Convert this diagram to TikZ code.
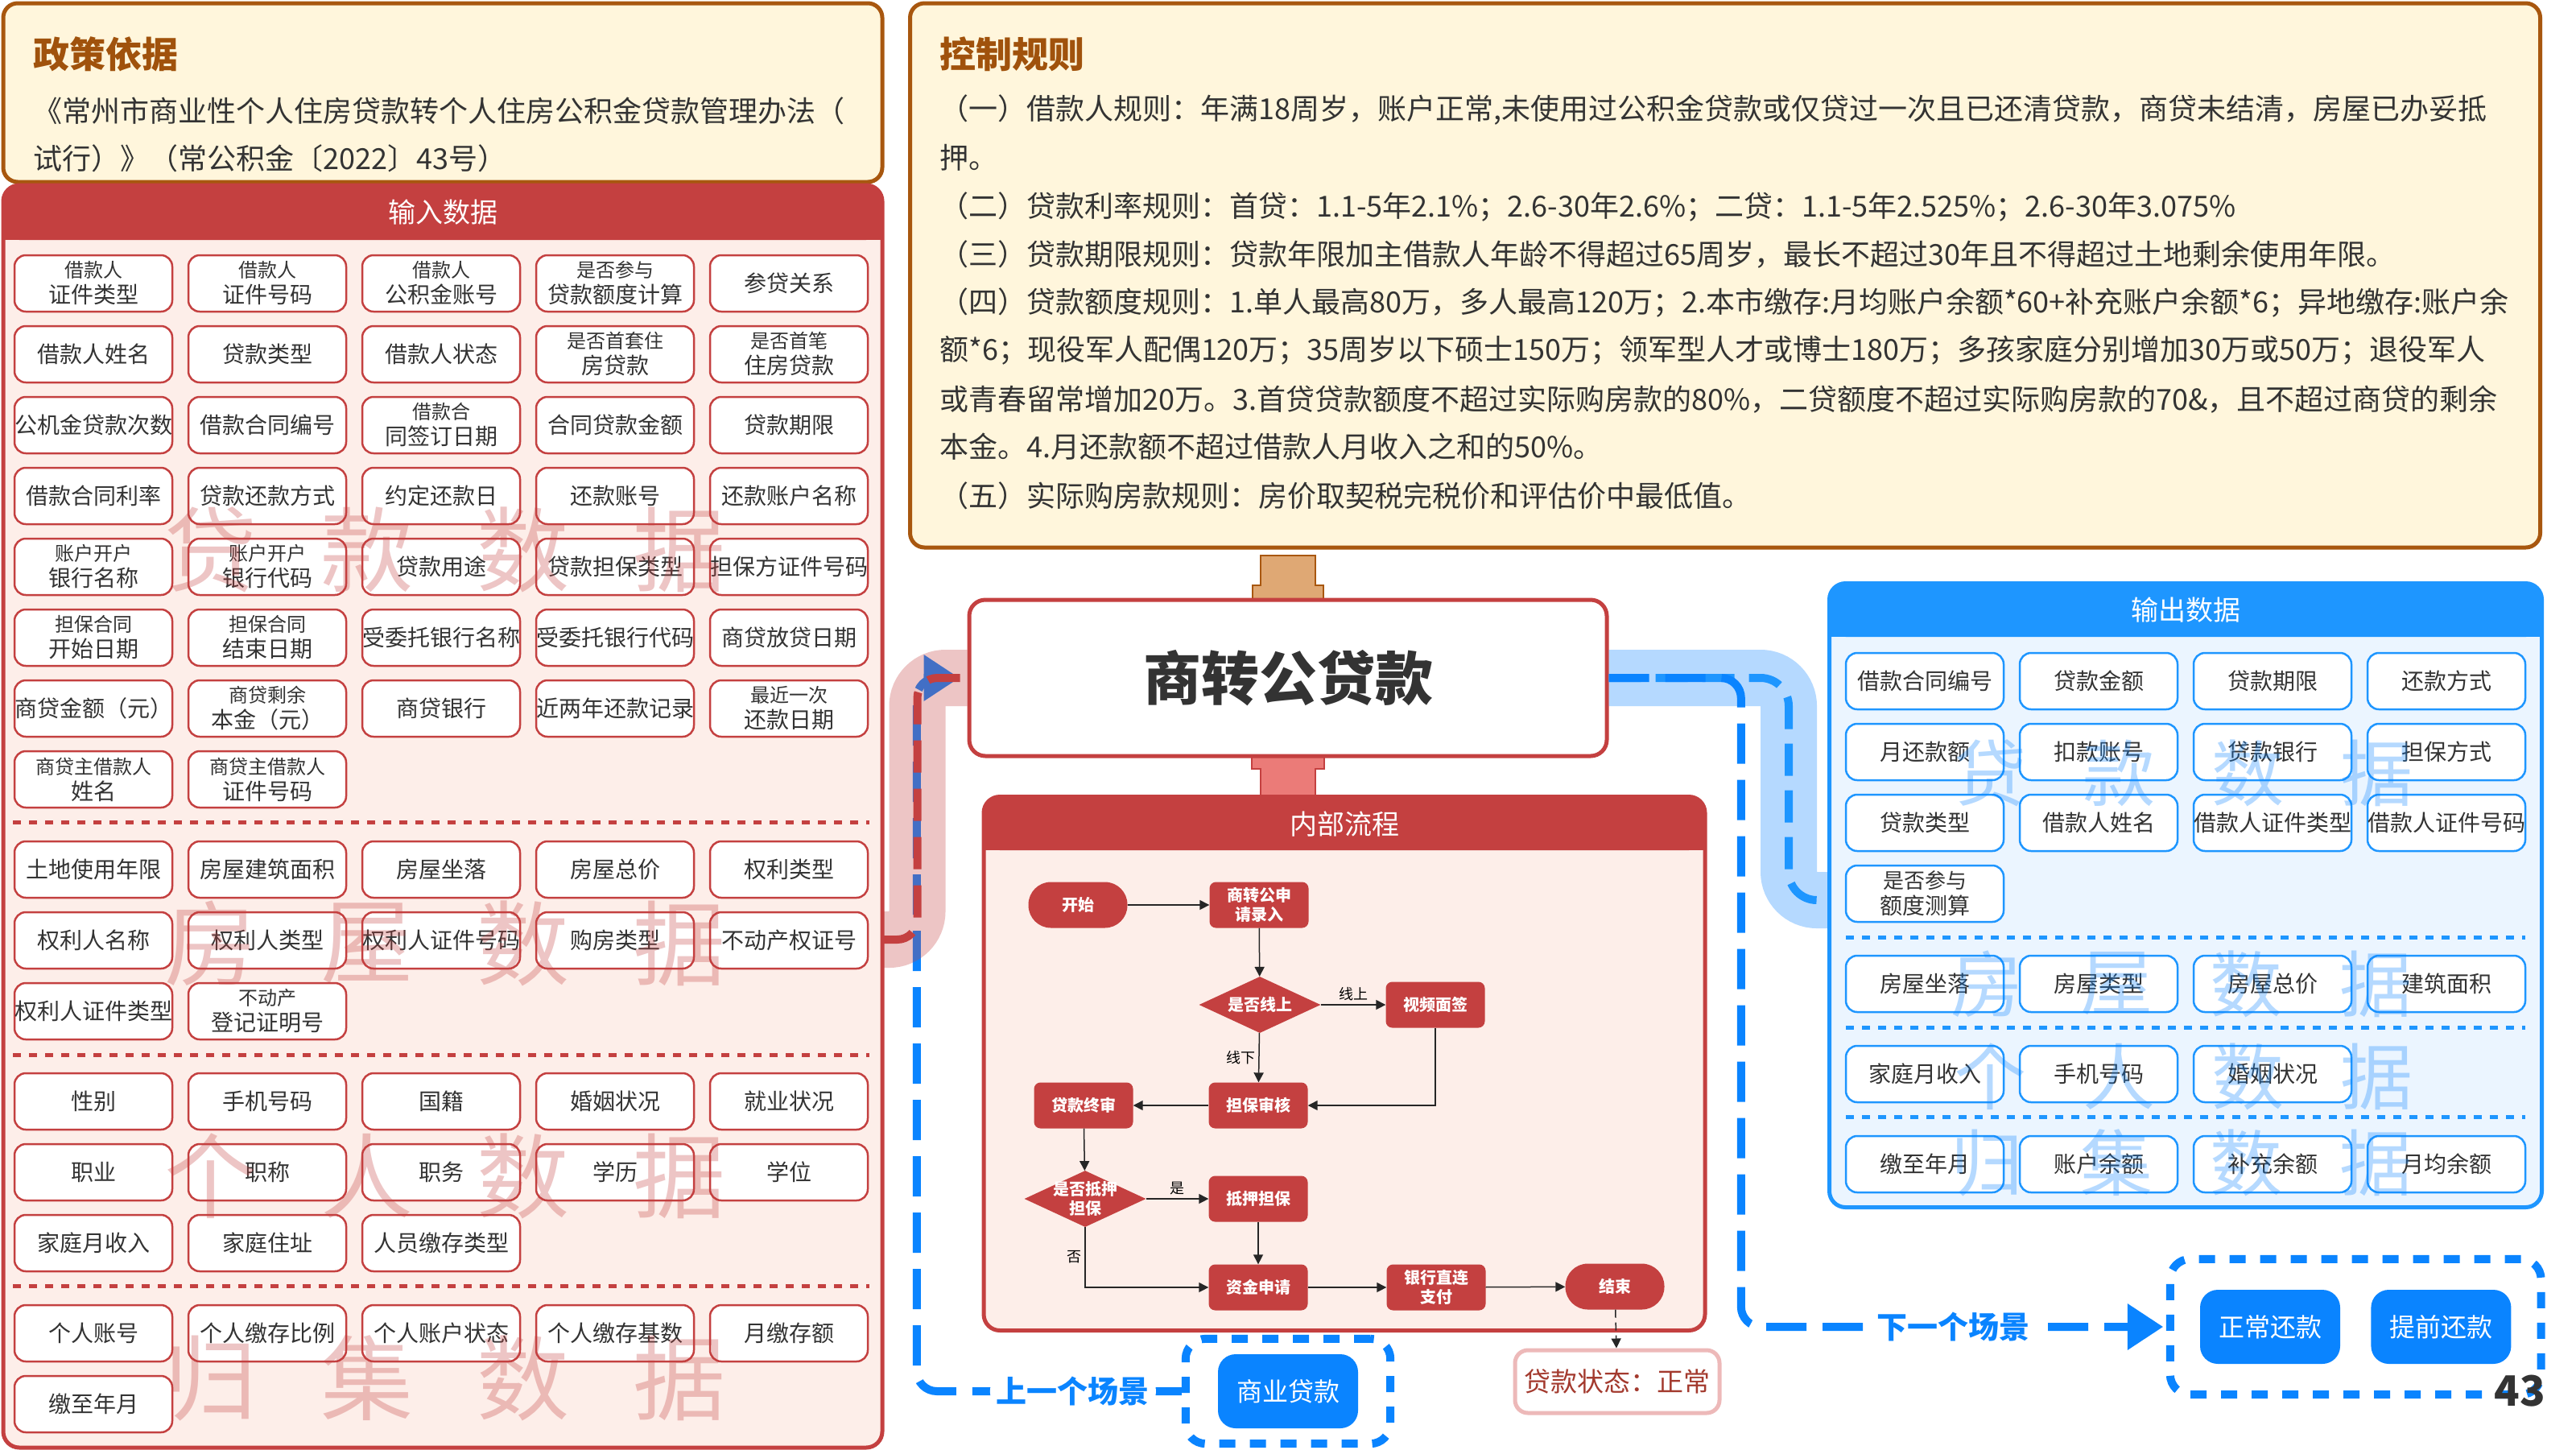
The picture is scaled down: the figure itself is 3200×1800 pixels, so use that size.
\documentclass[tikz,border=0pt]{standalone}
\usepackage{fontspec}
\setmainfont{Noto Sans CJK SC}
\usetikzlibrary{arrows.meta,shapes.geometric,fit,positioning}

\definecolor{brownline}{HTML}{A8570F}
\definecolor{creamfill}{HTML}{FFF6DC}
\definecolor{titlebrown}{HTML}{A0520C}
\definecolor{inred}{HTML}{C44040}
\definecolor{pinkfill}{HTML}{FDEEE9}
\definecolor{tanfill}{HTML}{DFA874}
\definecolor{linkred}{HTML}{EB7B78}
\definecolor{outblue}{HTML}{0A84FF}
\definecolor{headblue}{HTML}{1E96FF}
\definecolor{paleblue}{HTML}{EBF5FF}
\definecolor{textgray}{HTML}{333333}
\definecolor{statusred}{HTML}{A33A2E}
\definecolor{glowpink}{HTML}{EDB9B9}

\newcommand\twoln{\fontsize{24}{27}\selectfont}
\newcommand\placefields[6]{% style, name, first x, first y, columns, labels
  \foreach \txt [count=\i from 0] in {#6}{
    \pgfmathtruncatemacro\cx{#3+216*mod(\i,#5)}
    \pgfmathtruncatemacro\cy{#4+88*floor(\i/#5)}
    \node[#1] (#2\i) at (\cx,\cy) {\txt};
  }}

\begin{document}
\begin{tikzpicture}[x=1pt, y=-1pt,
  panel/.style={line width=5pt, rounded corners=20pt, inner sep=0pt},
  notetitle/.style={anchor=west, inner sep=0pt, text=titlebrown, font=\fontsize{45}{50}\selectfont\bfseries},
  notetext/.style={anchor=west, inner sep=0pt, text=textgray, font=\fontsize{36}{40}\selectfont},
  headtext/.style={inner sep=0pt, text=white, font=\fontsize{34}{38}\selectfont},
  infield/.style={draw=inred, fill=white, line width=2.5pt, rounded corners=14pt, minimum width=196pt, minimum height=70pt, inner sep=0pt, align=center, text=textgray, font=\fontsize{28}{32}\selectfont},
  outfield/.style={infield, draw=headblue},
  sepline/.style={line width=5pt, dash pattern=on 10pt off 10pt},
  wmred/.style={inner sep=0pt, text=inred, opacity=.3, font=\fontsize{115}{115}\selectfont},
  wmblue/.style={inner sep=0pt, text=outblue, opacity=.3, font=\fontsize{90}{90}\selectfont},
  flowbox/.style={fill=inred, text=white, rounded corners=8pt, minimum width=123pt, minimum height=57pt, inner sep=0pt, align=center, font=\fontsize{20}{24}\selectfont\bfseries},
  flowend/.style={flowbox, rounded corners=28pt},
  flowdec/.style={diamond, fill=inred, aspect=2.2, minimum width=151pt, minimum height=70pt, inner sep=0pt},
  flowtxt/.style={text=white, align=center, inner sep=0pt, font=\fontsize{20}{24}\selectfont\bfseries},
  flowlbl/.style={inner sep=4pt, font=\fontsize{18}{20}\selectfont},
  flowarr/.style={draw=black!85, line width=1.5pt, -{Triangle[length=12pt,width=12pt]}},
  scene/.style={fill=outblue, text=white, rounded corners=22pt, minimum width=174pt, minimum height=92pt, inner sep=0pt, font=\fontsize{32}{36}\selectfont},
  scenegrp/.style={draw=outblue, line width=10pt, dash pattern=on 20pt off 18pt, rounded corners=25pt},
  scenelbl/.style={fill=white, text=outblue, inner sep=8pt, font=\fontsize{38}{42}\selectfont\bfseries},
  band/.style={line width=70pt, opacity=.3, rounded corners=35pt},
  bluedash/.style={draw=outblue, line width=10pt, dash pattern=on 50pt off 20pt, rounded corners=25pt},
  lightdash/.style={draw=headblue, line width=10pt, dash pattern=on 40pt off 18pt, rounded corners=35pt},
  reddash/.style={draw=inred, line width=10pt, dash pattern=on 40pt off 20pt, rounded corners=25pt},
  bigtip/.style={-{Triangle[length=44pt,width=58pt,line width=0pt]}}
]
\useasboundingbox (0,0) rectangle (3200,1800);
\fill[white] (0,0) rectangle (3200,1800);

% policy basis
\node[panel, draw=brownline, fill=creamfill, rounded corners=18pt, minimum width=1092pt, minimum height=222pt] (policy) at (550,115) {};
\node[notetitle] (policytitle) at (41,67) {政策依据};
\node[notetext] (pol1) at (41,138) {《常州市商业性个人住房贷款转个人住房公积金贷款管理办法（};
\node[notetext] (pol2) at (41,197) {试行）》（常公积金〔2022〕43号）};

% control rules
\node[panel, draw=brownline, fill=creamfill, rounded corners=18pt, minimum width=2025pt, minimum height=676pt] (rules) at (2143,342) {};
\node[notetitle] (rulestitle) at (1167,67) {控制规则};
\node[notetext] (rule1) at (1167,137) {（一）借款人规则：年满18周岁，账户正常,未使用过公积金贷款或仅贷过一次且已还清贷款，商贷未结清，房屋已办妥抵};
\node[notetext] (rule2) at (1167,196) {押。};
\node[notetext] (rule3) at (1167,257) {（二）贷款利率规则：首贷：1.1-5年2.1\%；2.6-30年2.6\%；二贷：1.1-5年2.525\%；2.6-30年3.075\%};
\node[notetext] (rule4) at (1167,316) {（三）贷款期限规则：贷款年限加主借款人年龄不得超过65周岁，最长不超过30年且不得超过土地剩余使用年限。};
\node[notetext] (rule5) at (1167,376) {（四）贷款额度规则：1.单人最高80万，多人最高120万；2.本市缴存:月均账户余额*60+补充账户余额*6；异地缴存:账户余};
\node[notetext] (rule6) at (1167,435) {额*6；现役军人配偶120万；35周岁以下硕士150万；领军型人才或博士180万；多孩家庭分别增加30万或50万；退役军人};
\node[notetext] (rule7) at (1167,496) {或青春留常增加20万。3.首贷贷款额度不超过实际购房款的80\%，二贷额度不超过实际购房款的70\&，且不超过商贷的剩余};
\node[notetext] (rule8) at (1167,555) {本金。4.月还款额不超过借款人月收入之和的50\%。};
\node[notetext] (rule9) at (1167,616) {（五）实际购房款规则：房价取契税完税价和评估价中最低值。};

% input data
\node[panel, draw=inred, fill=pinkfill, minimum width=1092pt, minimum height=1568pt] (inpanel) at (550,1014) {};
\fill[inred, rounded corners=20pt] (4,230) rectangle (1096,298);
\fill[inred] (4,265) rectangle (1096,298);
\node[headtext] (inhead) at (550,264) {输入数据};
\placefields{infield}{loan}{116}{352}{5}{{\twoln 借款人\\证件类型}, {\twoln 借款人\\证件号码}, {\twoln 借款人\\公积金账号}, {\twoln 是否参与\\贷款额度计算}, 参贷关系,
  借款人姓名, 贷款类型, 借款人状态, {\twoln 是否首套住\\房贷款}, {\twoln 是否首笔\\住房贷款},
  公机金贷款次数, 借款合同编号, {\twoln 借款合\\同签订日期}, 合同贷款金额, 贷款期限,
  借款合同利率, 贷款还款方式, 约定还款日, 还款账号, 还款账户名称,
  {\twoln 账户开户\\银行名称}, {\twoln 账户开户\\银行代码}, 贷款用途, 贷款担保类型, 担保方证件号码,
  {\twoln 担保合同\\开始日期}, {\twoln 担保合同\\结束日期}, 受委托银行名称, 受委托银行代码, 商贷放贷日期,
  商贷金额（元）, {\twoln 商贷剩余\\本金（元）}, 商贷银行, 近两年还款记录, {\twoln 最近一次\\还款日期},
  {\twoln 商贷主借款人\\姓名}, {\twoln 商贷主借款人\\证件号码}}
\placefields{infield}{house}{116}{1080}{5}{土地使用年限, 房屋建筑面积, 房屋坐落, 房屋总价, 权利类型,
  权利人名称, 权利人类型, 权利人证件号码, 购房类型, 不动产权证号,
  权利人证件类型, {\twoln 不动产\\登记证明号}}
\placefields{infield}{person}{116}{1368}{5}{性别, 手机号码, 国籍, 婚姻状况, 就业状况,
  职业, 职称, 职务, 学历, 学位, 家庭月收入, 家庭住址, 人员缴存类型}
\placefields{infield}{fund}{116}{1656}{5}{个人账号, 个人缴存比例, 个人账户状态, 个人缴存基数, 月缴存额, 缴至年月}
\foreach \y in {1021,1310,1597}
  \draw[sepline, inred] (16,\y) -- (1080,\y);
\foreach \ch [count=\j from 0] in {贷,款,数,据} \node[wmred] (wmloan\j) at (262+194*\j,683) {\ch};
\foreach \ch [count=\j from 0] in {房,屋,数,据} \node[wmred] (wmhouse\j) at (262+194*\j,1172) {\ch};
\foreach \ch [count=\j from 0] in {个,人,数,据} \node[wmred] (wmperson\j) at (262+194*\j,1461) {\ch};
\foreach \ch [count=\j from 0] in {归,集,数,据} \node[wmred] (wmfund\j) at (262+194*\j,1712) {\ch};

% output data
\node[panel, draw=headblue, fill=paleblue, minimum width=885pt, minimum height=775pt] (outpanel) at (2715,1112) {};
\fill[headblue, rounded corners=20pt] (2273,725) rectangle (3158,791);
\fill[headblue] (2273,760) rectangle (3158,791);
\node[headtext] (outhead) at (2715,758) {输出数据};
\placefields{outfield}{outloan}{2391}{846}{4}{借款合同编号, 贷款金额, 贷款期限, 还款方式,
  月还款额, 扣款账号, 贷款银行, 担保方式,
  贷款类型, 借款人姓名, 借款人证件类型, 借款人证件号码, {\fontsize{26}{30}\selectfont 是否参与\\额度测算}}
\placefields{outfield}{outhouse}{2391}{1222}{4}{房屋坐落, 房屋类型, 房屋总价, 建筑面积}
\placefields{outfield}{outperson}{2391}{1334}{4}{家庭月收入, 手机号码, 婚姻状况}
\placefields{outfield}{outfund}{2391}{1446}{4}{缴至年月, 账户余额, 补充余额, 月均余额}
\foreach \y in {1164,1276,1387}
  \draw[sepline, headblue] (2293,\y) -- (3137,\y);
\foreach \ch [count=\j from 0] in {贷,款,数,据} \node[wmblue] (wmoloan\j) at (2472+160*\j,960) {\ch};
\foreach \ch [count=\j from 0] in {房,屋,数,据} \node[wmblue] (wmohouse\j) at (2468+161*\j,1222) {\ch};
\foreach \ch [count=\j from 0] in {个,人,数,据} \node[wmblue] (wmoperson\j) at (2472+160*\j,1337) {\ch};
\foreach \ch [count=\j from 0] in {归,集,数,据} \node[wmblue] (wmofund\j) at (2468+161*\j,1444) {\ch};

% main title with its two links
\coordinate (titlepos) at (1600,842);
\draw[draw=brownline, fill=tanfill, line width=2.5pt, shift={(1600,745)}]
  (-34,-55) -- (34,-55) -- (34,-18) -- (44,-18) -- (44,0) -- (-44,0) -- (-44,-18) -- (-34,-18) -- cycle;
\draw[draw=inred, fill=linkred, line width=2.5pt, shift={(1600,939)}]
  (-45,0) -- (45,0) -- (45,16) -- (34,16) -- (34,52) -- (-34,52) -- (-34,16) -- (-45,16) -- cycle;
\node[draw=inred, fill=white, line width=5pt, rounded corners=20pt, minimum width=792pt, minimum height=194pt,
  text=textgray, font=\fontsize{72}{80}\selectfont\bfseries] (title) at (titlepos) {商转公贷款};

% internal flow
\node[panel, draw=inred, fill=pinkfill, minimum width=896pt, minimum height=663pt] (flow) at (1670,1321) {};
\fill[inred, rounded corners=20pt] (1222,990) rectangle (2118,1056);
\fill[inred] (1222,1025) rectangle (2118,1056);
\node[headtext] (flowhead) at (1670,1024) {内部流程};

\node[flowend] (start) at (1339,1124) {开始};
\node[flowbox] (apply) at (1564,1124) {商转公申\\请录入};
\node[flowdec, label={[flowtxt]center:是否线上}] (online) at (1565,1248) {};
\node[flowbox] (video) at (1783,1248) {视频面签};
\node[flowbox] (guarcheck) at (1563,1373) {担保审核};
\node[flowbox] (final) at (1346,1373) {贷款终审};
\node[flowdec, label={[flowtxt]center:{是否抵押\\担保}}] (mortq) at (1348,1489) {};
\node[flowbox] (mortg) at (1563,1489) {抵押担保};
\node[flowbox] (fundreq) at (1563,1599) {资金申请};
\node[flowbox] (bank) at (1784,1599) {银行直连\\支付};
\node[flowend] (finish) at (2006,1598) {结束};

\draw[flowarr] (start) -- (apply);
\draw[flowarr] (apply) -- (online);
\draw[flowarr] (online) -- node[above, flowlbl] {线上} (video);
\draw[flowarr] (online) -- node[left, flowlbl] {线下} (guarcheck);
\draw[flowarr] (video) |- (guarcheck);
\draw[flowarr] (guarcheck) -- (final);
\draw[flowarr] (final) -- (mortq);
\draw[flowarr] (mortq) -- node[above, flowlbl] {是} (mortg);
\draw[flowarr] (mortq) |- node[pos=0.25, left, flowlbl] {否} (fundreq);
\draw[flowarr] (mortg) -- (fundreq);
\draw[flowarr] (fundreq) -- (bank);
\draw[flowarr] (bank) -- (finish);

\node[draw=glowpink, fill=white, line width=5pt, rounded corners=16pt, minimum width=254pt, minimum height=78pt,
  text=statusred, font=\fontsize{33}{36}\selectfont] (status) at (2009,1716) {贷款状态：正常};
\draw[flowarr, dash pattern=on 10pt off 6pt] (finish) -- (status);

% scenes before and after
\node[scene] (prev) at (1600,1728) {商业贷款};
\node[scenegrp, fit=(prev), inner xsep=40pt, inner ysep=19pt] (prevgrp) {};
\node[scene] (normal) at (2820,1648) {正常还款};
\node[scene, right=38pt of normal] (early) {提前还款};
\node[scenegrp, fit=(normal)(early), inner xsep=37pt, inner ysep=38pt] (nextgrp) {};

% connectors
\coordinate (inport) at (1096,1167);
\coordinate (outport) at (2270,1118);
\draw[band, draw=outblue] (title.east) -| ([xshift=-48pt]outport) -- (outport);
\draw[lightdash] (title.east) -| ([xshift=-48pt]outport) -- (outport);
\draw[bluedash, bigtip, shorten >=4pt] (title.east) -| ([xshift=-528pt]nextgrp.west)
  -- node[scenelbl] {下一个场景} (nextgrp.west);
\draw[bluedash, bigtip, shorten >=10pt] (prevgrp.west) -- node[scenelbl, pos=0.41] {上一个场景} ++(-329,0) |- (title.west);
\draw[band, draw=inred] (inport) -| ([xshift=-62pt]title.west) -- (title.west);
\draw[reddash] (inport) -| ([xshift=-62pt]title.west) -- (title.west);

\node[inner sep=0pt, text=textgray, font=\fontsize{52}{56}\selectfont\bfseries] (pageno) at (3130,1728) {43};
\end{tikzpicture}
\end{document}
